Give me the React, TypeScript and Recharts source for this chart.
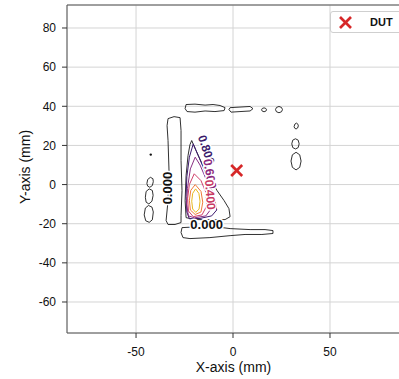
import React from 'react';
import {
  ScatterChart,
  Scatter,
  XAxis,
  YAxis,
  CartesianGrid,
  ReferenceArea,
  Legend,
} from 'recharts';

const xTicks = [-50, 0, 50];
const yTicks = [-60, -40, -20, 0, 20, 40, 60, 80];
const xDomain = [-85.6, 86.1];
const yDomain = [-75.84, 91.75];

// zero-level outlines (black)
const topBlobA = [
  { x: -24.2, y: 40.9 }, { x: -19.6, y: 41.1 }, { x: -14.4, y: 40.6 }, { x: -10.3, y: 40.9 },
  { x: -6.7, y: 40.4 }, { x: -4.1, y: 39.3 }, { x: -4.6, y: 37.8 }, { x: -9.3, y: 37.3 },
  { x: -14.4, y: 37.6 }, { x: -19.6, y: 37.0 }, { x: -23.7, y: 37.3 }, { x: -24.7, y: 38.8 },
];
const topBlobB = [
  { x: -1.5, y: 39.3 }, { x: 3.6, y: 39.6 }, { x: 8.8, y: 39.9 }, { x: 10.3, y: 38.8 },
  { x: 8.8, y: 37.6 }, { x: 3.6, y: 37.3 }, { x: -1.0, y: 37.0 }, { x: -2.1, y: 38.3 },
];
const ovalC = [
  { x: 14.7, y: 38.2 }, { x: 15.1, y: 38.9 }, { x: 16.0, y: 39.2 }, { x: 16.9, y: 38.9 },
  { x: 17.3, y: 38.2 }, { x: 16.9, y: 37.5 }, { x: 16.0, y: 37.2 }, { x: 15.1, y: 37.5 },
];
const ovalD = [
  { x: 21.9, y: 38.3 }, { x: 22.4, y: 39.4 }, { x: 23.7, y: 39.9 }, { x: 25.0, y: 39.4 },
  { x: 25.5, y: 38.3 }, { x: 25.0, y: 37.2 }, { x: 23.7, y: 36.7 }, { x: 22.4, y: 37.2 },
];
const ovalE = [
  { x: 31.5, y: 29.6 }, { x: 31.9, y: 30.9 }, { x: 32.7, y: 31.4 }, { x: 33.5, y: 30.8 },
  { x: 33.7, y: 30.0 }, { x: 33.3, y: 28.9 }, { x: 32.5, y: 28.4 }, { x: 31.8, y: 28.8 },
];
const ovalF = [
  { x: 30.3, y: 20.8 }, { x: 30.8, y: 22.7 }, { x: 32.2, y: 23.4 }, { x: 33.6, y: 22.7 },
  { x: 34.1, y: 20.8 }, { x: 33.6, y: 18.9 }, { x: 32.2, y: 18.2 }, { x: 30.8, y: 18.9 },
];
const ovalG = [
  { x: 29.9, y: 12.0 }, { x: 30.6, y: 15.2 }, { x: 32.5, y: 16.5 }, { x: 34.4, y: 15.2 },
  { x: 35.1, y: 12.0 }, { x: 34.4, y: 8.8 }, { x: 32.5, y: 7.5 }, { x: 30.6, y: 8.8 },
];
const leftBlobA = [
  { x: -44.4, y: 0.5 }, { x: -44.0, y: 2.6 }, { x: -42.6, y: 3.7 }, { x: -41.3, y: 3.0 },
  { x: -41.1, y: 1.5 }, { x: -41.6, y: -0.5 }, { x: -42.9, y: -1.4 }, { x: -44.0, y: -0.8 },
];
const leftBlobB = [
  { x: -45.2, y: -6.5 }, { x: -44.8, y: -3.5 }, { x: -43.2, y: -2.2 }, { x: -41.6, y: -3.0 },
  { x: -41.2, y: -5.5 }, { x: -41.8, y: -8.5 }, { x: -43.4, y: -9.9 }, { x: -44.8, y: -9.0 },
];
const leftBlobC = [
  { x: -45.8, y: -15.5 }, { x: -45.2, y: -12.0 }, { x: -43.6, y: -10.7 }, { x: -41.8, y: -11.5 },
  { x: -41.1, y: -14.0 }, { x: -41.6, y: -18.0 }, { x: -43.2, y: -19.3 }, { x: -45.0, y: -18.5 },
];
const leftBar = [
  { x: -33.5, y: 33.7 }, { x: -30.4, y: 34.7 }, { x: -27.3, y: 34.2 }, { x: -26.8, y: 27.6 },
  { x: -26.8, y: 12.3 }, { x: -26.3, y: -3.1 }, { x: -26.8, y: -15.8 }, { x: -26.8, y: -19.4 },
  { x: -29.9, y: -20.4 }, { x: -33.5, y: -20.4 }, { x: -34.5, y: -18.4 }, { x: -33.5, y: -8.2 },
  { x: -33.0, y: 7.2 }, { x: -33.5, y: 22.5 }, { x: -34.0, y: 30.1 },
];
const bottomBar = [
  { x: -26.3, y: -22.0 }, { x: -17.0, y: -21.5 }, { x: -9.3, y: -21.5 }, { x: -1.5, y: -22.5 },
  { x: 8.8, y: -23.0 }, { x: 16.5, y: -23.0 }, { x: 20.6, y: -23.5 }, { x: 20.6, y: -25.0 },
  { x: 14.9, y: -25.5 }, { x: 6.2, y: -25.5 }, { x: -1.5, y: -26.1 }, { x: -11.9, y: -27.1 },
  { x: -22.2, y: -27.6 }, { x: -25.8, y: -27.1 }, { x: -26.8, y: -24.5 },
];
const outerDrop = [
  { x: -21.3, y: 22.5 }, { x: -19.1, y: 17.4 }, { x: -15.5, y: 9.7 }, { x: -11.9, y: 3.1 },
  { x: -8.2, y: -3.1 }, { x: -4.6, y: -8.2 }, { x: -2.1, y: -12.3 }, { x: -1.5, y: -16.4 },
  { x: -4.1, y: -17.9 }, { x: -11.9, y: -17.9 }, { x: -19.6, y: -17.9 }, { x: -24.2, y: -16.9 },
  { x: -24.7, y: -8.2 }, { x: -24.2, y: 4.6 }, { x: -23.2, y: 14.8 }, { x: -22.2, y: 20.4 },
];
const strayDot = [{ x: -42.4, y: 15.3 }];

// coloured levels, outer to inner
const level1 = [
  { x: -20.5, y: 20.8 }, { x: -22.5, y: 14 }, { x: -23.8, y: 4 }, { x: -24.2, y: -6 },
  { x: -23.8, y: -14 }, { x: -22.5, y: -17.5 }, { x: -17, y: -17.3 }, { x: -11, y: -16 },
  { x: -8.4, y: -13 }, { x: -9.5, y: -7 }, { x: -12, y: 0 }, { x: -15, y: 8 }, { x: -18, y: 15 },
];
const level2 = [
  { x: -19.5, y: 14 }, { x: -22, y: 8 }, { x: -23.5, y: -2 }, { x: -23.9, y: -10 },
  { x: -23, y: -16 }, { x: -20, y: -17 }, { x: -14, y: -16 }, { x: -11, y: -12 },
  { x: -11.5, y: -5 }, { x: -14, y: 3 }, { x: -17, y: 10 },
];
const level3 = [
  { x: -20, y: 5.5 }, { x: -22.5, y: 0 }, { x: -23.4, y: -7 }, { x: -23, y: -13.5 },
  { x: -20.5, y: -16.4 }, { x: -16, y: -15.5 }, { x: -13.6, y: -11 }, { x: -14, y: -4 },
  { x: -16.5, y: 2 },
];
const level4 = [
  { x: -19.5, y: 0 }, { x: -21.8, y: -3 }, { x: -22.5, y: -8 }, { x: -22, y: -13 },
  { x: -19.5, y: -15.3 }, { x: -16.5, y: -14 }, { x: -15.6, y: -9 }, { x: -16.5, y: -3.5 },
];
const level5 = [
  { x: -19.3, y: -2.2 }, { x: -20.8, y: -4.5 }, { x: -21.3, y: -8.5 }, { x: -20.8, y: -12.5 },
  { x: -19.2, y: -14.2 }, { x: -17.5, y: -12.5 }, { x: -17.0, y: -8.5 }, { x: -17.6, y: -4.5 },
];

const contourLabels = [
  { x: -33.8, y: -1.8, text: '0.000', angle: -90, color: '#111', size: 13 },
  { x: -13.6, y: -20.4, text: '0.000', angle: 0, color: '#111', size: 13 },
  { x: -13.8, y: 17.8, text: '0.800', angle: 72, color: '#3b1a6c', size: 12 },
  { x: -12.0, y: 5.5, text: '0.600', angle: 80, color: '#8b2a7e', size: 12 },
  { x: -11.8, y: -5.2, text: '0.400', angle: 86, color: '#c83a64', size: 12 },
];

const dut = [{ x: 1.9, y: 7.2 }];

const blackOutlines = [
  topBlobA, topBlobB, ovalC, ovalD, ovalE, ovalF, ovalG,
  leftBlobA, leftBlobB, leftBlobC, leftBar, bottomBar, outerDrop,
];
const colouredLevels = [
  { pts: level1, color: '#3d1a6e' },
  { pts: level2, color: '#8a2f83' },
  { pts: level3, color: '#d0406a' },
  { pts: level4, color: '#f07a3a' },
  { pts: level5, color: '#e8b820' },
];

const font = '"Liberation Sans", Arial, Helvetica, sans-serif';
const noPoint = () => <g />;

const LabelShape = (props: any) => {
  const { cx, cy, payload } = props;
  return (
    <text
      x={cx}
      y={cy}
      transform={`rotate(${payload.angle} ${cx} ${cy})`}
      textAnchor="middle"
      dominantBaseline="central"
      fontFamily={font}
      fontSize={payload.size}
      fontWeight="bold"
      fill={payload.color}
      stroke="#fff"
      strokeWidth={3}
      paintOrder="stroke"
    >
      {payload.text}
    </text>
  );
};

const CrossShape = (props: any) => {
  const { cx, cy } = props;
  const s = 5.5;
  return (
    <g stroke="#d62728" strokeWidth={2.6}>
      <line x1={cx - s} y1={cy - s} x2={cx + s} y2={cy + s} />
      <line x1={cx - s} y1={cy + s} x2={cx + s} y2={cy - s} />
    </g>
  );
};

const DotShape = (props: any) => <circle cx={props.cx} cy={props.cy} r={1.2} fill="#111" />;

const LegendBox = () => (
  <div
    style={{
      display: 'flex',
      alignItems: 'center',
      height: 22,
      width: 80,
      boxSizing: 'border-box',
      border: '1px solid #cfcfcf',
      borderRadius: 3,
      background: '#fff',
      fontFamily: font,
    }}
  >
    <svg width={36} height={20}>
      <g stroke="#d62728" strokeWidth={2.6}>
        <line x1={9} y1={5} x2={20} y2={16} />
        <line x1={9} y1={16} x2={20} y2={5} />
      </g>
    </svg>
    <span style={{ fontSize: 11, fontWeight: 'bold', color: '#111', marginLeft: 3 }}>DUT</span>
  </div>
);

export default function App() {
  return (
    <div style={{ position: 'absolute', left: 0, top: 0, background: '#fff' }}>
      <ScatterChart width={400} height={379} margin={{ top: 5, right: 0, bottom: 0, left: 0 }}>
        <CartesianGrid stroke="#d4d4d4" strokeWidth={1} />
        <XAxis
          type="number"
          dataKey="x"
          domain={xDomain}
          ticks={xTicks}
          allowDataOverflow
          height={46}
          tickSize={5}
          tickMargin={9}
          stroke="#333"
          axisLine={false}
          tick={{ fill: '#111', fontSize: 12, fontFamily: font }}
          label={{
            value: 'X-axis (mm)',
            position: 'insideBottom',
            offset: 7,
            fill: '#111',
            fontSize: 14,
            fontFamily: font,
          }}
        />
        <YAxis
          type="number"
          dataKey="y"
          domain={yDomain}
          ticks={yTicks}
          allowDataOverflow
          width={67}
          tickSize={5}
          tickMargin={6}
          stroke="#333"
          axisLine={false}
          tick={{ fill: '#111', fontSize: 12, fontFamily: font }}
          label={{
            value: 'Y-axis (mm)',
            angle: -90,
            position: 'insideLeft',
            offset: 0,
            content: (p: any) => {
              const vb = p.viewBox;
              const cx = vb.x + 25;
              const cy = vb.y + 162;
              return (
                <text
                  x={cx}
                  y={cy}
                  transform={`rotate(-90 ${cx} ${cy})`}
                  textAnchor="middle"
                  dominantBaseline="central"
                  fill="#111"
                  fontSize={14}
                  fontFamily={font}
                >
                  Y-axis (mm)
                </text>
              );
            },
          }}
        />
        <ReferenceArea
          x1={xDomain[0]}
          x2={xDomain[1]}
          y1={yDomain[0]}
          y2={yDomain[1]}
          fill="none"
          stroke="#555"
          strokeWidth={1}
          ifOverflow="visible"
        />
        {blackOutlines.map((pts, i) => (
          <Scatter
            key={`b${i}`}
            data={pts}
            line={{ stroke: '#1a1a1a', strokeWidth: 0.9 }}
            lineJointType="linearClosed"
            shape={noPoint}
            legendType="none"
            isAnimationActive={false}
          />
        ))}
        {colouredLevels.map((lv, i) => (
          <Scatter
            key={`c${i}`}
            data={lv.pts}
            line={{ stroke: lv.color, strokeWidth: 1 }}
            lineJointType="linearClosed"
            shape={noPoint}
            legendType="none"
            isAnimationActive={false}
          />
        ))}
        <Scatter data={strayDot} shape={DotShape} legendType="none" isAnimationActive={false} />
        <Scatter data={contourLabels} shape={LabelShape} legendType="none" isAnimationActive={false} />
        <Scatter name="DUT" data={dut} shape={CrossShape} isAnimationActive={false} />
        <Legend
          layout="horizontal"
          verticalAlign="middle"
          align="center"
          content={() => <LegendBox />}
          wrapperStyle={{ left: 330, top: 11, width: 80, height: 22 }}
        />
      </ScatterChart>
    </div>
  );
}
